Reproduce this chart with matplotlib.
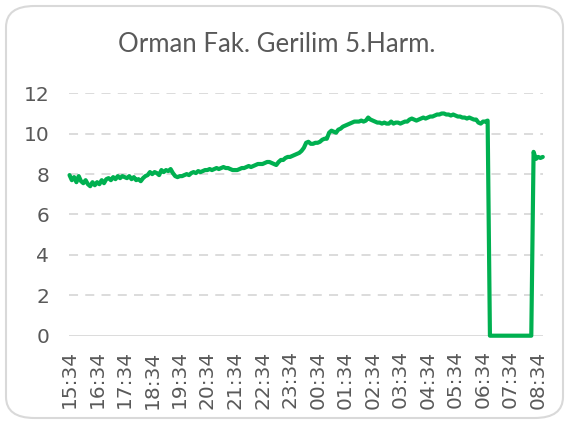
import numpy as np
import matplotlib
matplotlib.use("Agg")
import matplotlib.pyplot as plt
from matplotlib.patches import FancyBboxPatch

title = "Orman Fak. Gerilim 5.Harm."
tick_labels = ["15:34", "16:34", "17:34", "18:34", "19:34", "20:34", "21:34", "22:34", "23:34",
               "00:34", "01:34", "02:34", "03:34", "04:34", "05:34", "06:34", "07:34", "08:34"]
y_ticks = [0, 2, 4, 6, 8, 10, 12]
step_min = 5  # sampling interval of the readings (minutes)

# readings every 5 minutes starting 15:34
values = [
    7.95, 7.7, 7.85, 7.6, 7.9, 7.65, 7.55, 7.7, 7.5, 7.4, 7.6, 7.45, 7.6,
    7.5, 7.7, 7.55, 7.75, 7.8, 7.7, 7.85, 7.75, 7.9, 7.8, 7.9, 7.85,
    7.8, 7.9, 7.75, 7.85, 7.7, 7.75, 7.65, 7.8, 7.9, 7.95, 8.1, 8.0,
    8.1, 8.05, 7.95, 8.2, 8.1, 8.2, 8.15, 8.25, 8.05, 7.9, 7.85, 7.9,
    7.9, 7.95, 8.0, 7.95, 8.05, 8.1, 8.05, 8.15, 8.1, 8.15, 8.2, 8.2,
    8.25, 8.2, 8.25, 8.3, 8.25, 8.3, 8.35, 8.3, 8.3, 8.25, 8.2, 8.2,
    8.2, 8.25, 8.3, 8.3, 8.35, 8.4, 8.35, 8.4, 8.45, 8.5, 8.5, 8.5,
    8.55, 8.6, 8.6, 8.55, 8.5, 8.45, 8.6, 8.7, 8.7, 8.8, 8.85, 8.85,
    8.9, 8.95, 9.0, 9.05, 9.15, 9.3, 9.55, 9.6, 9.5, 9.5, 9.55, 9.55,
    9.6, 9.7, 9.75, 9.75, 10.05, 10.15, 10.1, 10.05, 10.2, 10.25, 10.35, 10.4,
    10.45, 10.5, 10.55, 10.6, 10.6, 10.6, 10.65, 10.6, 10.65, 10.8, 10.7, 10.65,
    10.6, 10.55, 10.55, 10.5, 10.55, 10.5, 10.5, 10.6, 10.5, 10.55, 10.55, 10.5,
    10.55, 10.6, 10.6, 10.7, 10.75, 10.7, 10.65, 10.7, 10.75, 10.8, 10.75, 10.8,
    10.85, 10.85, 10.9, 10.95, 10.95, 11.0, 11.0, 10.95, 10.95, 10.9, 10.95, 10.9,
    10.85, 10.85, 10.8, 10.8, 10.75, 10.8, 10.75, 10.7, 10.7, 10.55, 10.5, 10.6,
    10.6, 10.65,
    0, 0, 0, 0, 0, 0, 0, 0, 0, 0, 0, 0, 0, 0, 0, 0, 0, 0, 0,
    9.1, 8.75, 8.85, 8.8, 8.85,
]

minutes = np.arange(len(values)) * step_min

plt.rcParams['font.family'] = ['Lato', 'DejaVu Sans']
text_color = "#595959"
grid_color = "#d9d9d9"
line_color = "#00b050"

fig = plt.figure(figsize=(5.69, 4.23), dpi=100)
W, H = 569, 423

# rounded chart border
border = FancyBboxPatch((6 / W, 5 / H), (W - 12) / W, (H - 11) / H,
                        boxstyle="round,pad=0,rounding_size=0.05",
                        transform=fig.transFigure, facecolor="none",
                        edgecolor=grid_color, linewidth=1.5, zorder=-1)
fig.patches.append(border)

left, right = 69.3 / W, 543 / W
bottom, top = 1 - 335.7 / H, 1 - 93.3 / H
ax = fig.add_axes([left, bottom, right - left, top - bottom])
ax.set_facecolor("none")

ax.plot(minutes, values, color=line_color, linewidth=3.0, solid_joinstyle="round",
        solid_capstyle="round", zorder=3, clip_on=False)

ax.set_ylim(0, 12)
ax.set_xlim(-0.5, 1030.5)
ax.set_yticks(y_ticks)
ax.set_yticklabels([str(v) for v in y_ticks])
ax.set_xticks(np.arange(len(tick_labels)) * 60)
ax.set_xticklabels(tick_labels, rotation=90)

for y in y_ticks[1:]:
    ax.axhline(y, color=grid_color, linewidth=1.3, linestyle=(0, (5, 4)), zorder=1)
ax.axhline(0, color=grid_color, linewidth=1.3, zorder=2)

for s in ax.spines.values():
    s.set_visible(False)
ax.tick_params(axis="both", length=0, colors=text_color, labelsize=14.5)
ax.tick_params(axis="y", pad=14.5)
ax.tick_params(axis="x", pad=10.5)
for lab in ax.get_xticklabels() + ax.get_yticklabels():
    lab.set_family(["DejaVu Sans"])

fig.text(276.5 / W, 1 - 51.7 / H, title, ha="center", va="baseline",
         fontsize=18.5, color=text_color)

fig.savefig("out.png", dpi=100)
